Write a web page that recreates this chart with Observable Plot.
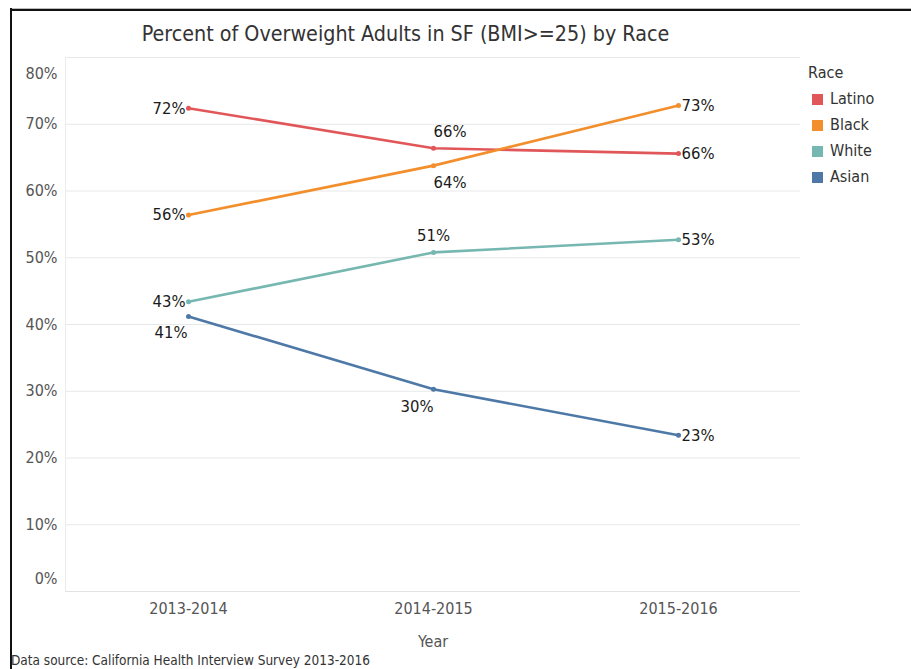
<!DOCTYPE html>
<html><head><meta charset="utf-8">
<script src="https://cdn.jsdelivr.net/npm/d3@7"></script>
<script src="https://cdn.jsdelivr.net/npm/@observablehq/plot@0.6"></script>
<style>
body{margin:0;background:#fff;}
#wrap{position:relative;width:911px;height:669px;overflow:hidden;background:#fff;font-family:"DejaVu Sans Condensed","Open Sans",sans-serif;}
#wrap svg{position:absolute;left:0;top:0;}
#topline{position:absolute;left:10px;top:8px;width:901px;height:2px;background:#111;border-top:1px solid #bbb;}
#leftline{position:absolute;left:10px;top:8px;width:2px;height:661px;background:#111;}
#title{position:absolute;left:0;width:811px;top:19px;text-align:center;font-size:21.3px;color:#333;line-height:30px;}
#legend{position:absolute;left:808px;top:62px;color:#333;font-size:16px;}
#legend .hd{height:24px;line-height:22px;}
#legend .it{height:26px;line-height:26px;display:flex;align-items:center;}
#legend .sw{width:11px;height:11px;margin:0 7px 0 4px;}
#caption{position:absolute;left:11px;top:652px;font-size:13.5px;line-height:16px;color:#333;white-space:nowrap;}
</style></head><body><div id="wrap">
<div id="topline"></div><div id="leftline"></div>
<div id="title">Percent of Overweight Adults in SF (BMI&gt;=25) by Race</div>
<div id="legend"></div>
<div id="caption">Data source: California Health Interview Survey 2013-2016</div>
</div>
<script>
const years = ["2013-2014", "2014-2015", "2015-2016"];
const races = ["Latino", "Black", "White", "Asian"];
const raceColors = ["#e15759", "#f28e2b", "#76b7b2", "#4e79a7"];
const latino = [72.4, 66.4, 65.6];
const black = [56.4, 63.8, 72.8];
const white = [43.4, 50.8, 52.7];
const asian = [41.2, 30.3, 23.4];
const yTicks = [0, 10, 20, 30, 40, 50, 60, 70, 80];

const series = {Latino: latino, Black: black, White: white, Asian: asian};
const data = races.flatMap(r => years.map((y, i) => ({race: r, year: y, value: series[r][i]})));
const lbl = d => Math.round(d.value) + "%";
const font = '"DejaVu Sans Condensed","Open Sans",sans-serif';

const textStyle = {text: lbl, fill: "#1a1a1a", fontSize: 16.5, fontFamily: font, fontWeight: 500};

const chart = Plot.plot({
  width: 911, height: 669,
  marginTop: 57, marginBottom: 78, marginLeft: 65, marginRight: 111,
  style: {fontFamily: font, background: "transparent"},
  x: {type: "point", domain: years, padding: 0.5, label: null},
  y: {domain: [0, 80], label: null},
  color: {domain: races, range: raceColors},
  marks: [
    Plot.gridY(yTicks, {stroke: "#e8e8e8", strokeOpacity: 1}),
    Plot.frame({anchor: "left", stroke: "#ececec"}),
    Plot.ruleY([0], {stroke: "#e3e3e3"}),
    Plot.axisY(yTicks.filter(t => t > 0 && t < 80), {tickSize: 0, tickPadding: 8, tickFormat: d => d + "%", fontSize: 16, fill: "#555", label: null}),
    Plot.axisY([80], {tickSize: 0, tickPadding: 8, tickFormat: d => d + "%", fontSize: 16, fill: "#555", dy: 16, label: null}),
    Plot.axisY([0], {tickSize: 0, tickPadding: 8, tickFormat: d => d + "%", fontSize: 16, fill: "#555", dy: -13, label: null}),
    Plot.axisX({tickSize: 0, tickPadding: 11, fontSize: 16, fill: "#555", label: null}),
    Plot.text(["Year"], {frameAnchor: "bottom", dy: 55, fontSize: 16, fill: "#555", fontFamily: font}),
    Plot.line(data, {x: "year", y: "value", stroke: "race", z: "race", strokeWidth: 2.6}),
    Plot.dot(data, {x: "year", y: "value", fill: "race", r: 2.5}),
    Plot.text(data.filter(d => d.year === years[0] && d.race !== "Asian"), {x: "year", y: "value", ...textStyle, textAnchor: "end", dx: -3}),
    Plot.text(data.filter(d => d.year === years[0] && d.race === "Asian"), {x: "year", y: "value", ...textStyle, textAnchor: "end", dx: -1, dy: 16}),
    Plot.text(data.filter(d => d.year === years[1] && d.race === "Latino"), {x: "year", y: "value", ...textStyle, textAnchor: "start", dy: -17}),
    Plot.text(data.filter(d => d.year === years[1] && d.race === "Black"), {x: "year", y: "value", ...textStyle, textAnchor: "start", dy: 17}),
    Plot.text(data.filter(d => d.year === years[1] && d.race === "White"), {x: "year", y: "value", ...textStyle, textAnchor: "middle", dy: -17}),
    Plot.text(data.filter(d => d.year === years[1] && d.race === "Asian"), {x: "year", y: "value", ...textStyle, textAnchor: "end", dy: 17}),
    Plot.text(data.filter(d => d.year === years[2]), {x: "year", y: "value", ...textStyle, textAnchor: "start", dx: 3})
  ]
});
const wrap = document.getElementById("wrap");
wrap.insertBefore(chart, wrap.firstChild);

const legend = document.getElementById("legend");
legend.innerHTML = '<div class="hd">Race</div>' + races.map((r, i) =>
  `<div class="it"><div class="sw" style="background:${raceColors[i]}"></div>${r}</div>`).join("");
</script></body></html>
